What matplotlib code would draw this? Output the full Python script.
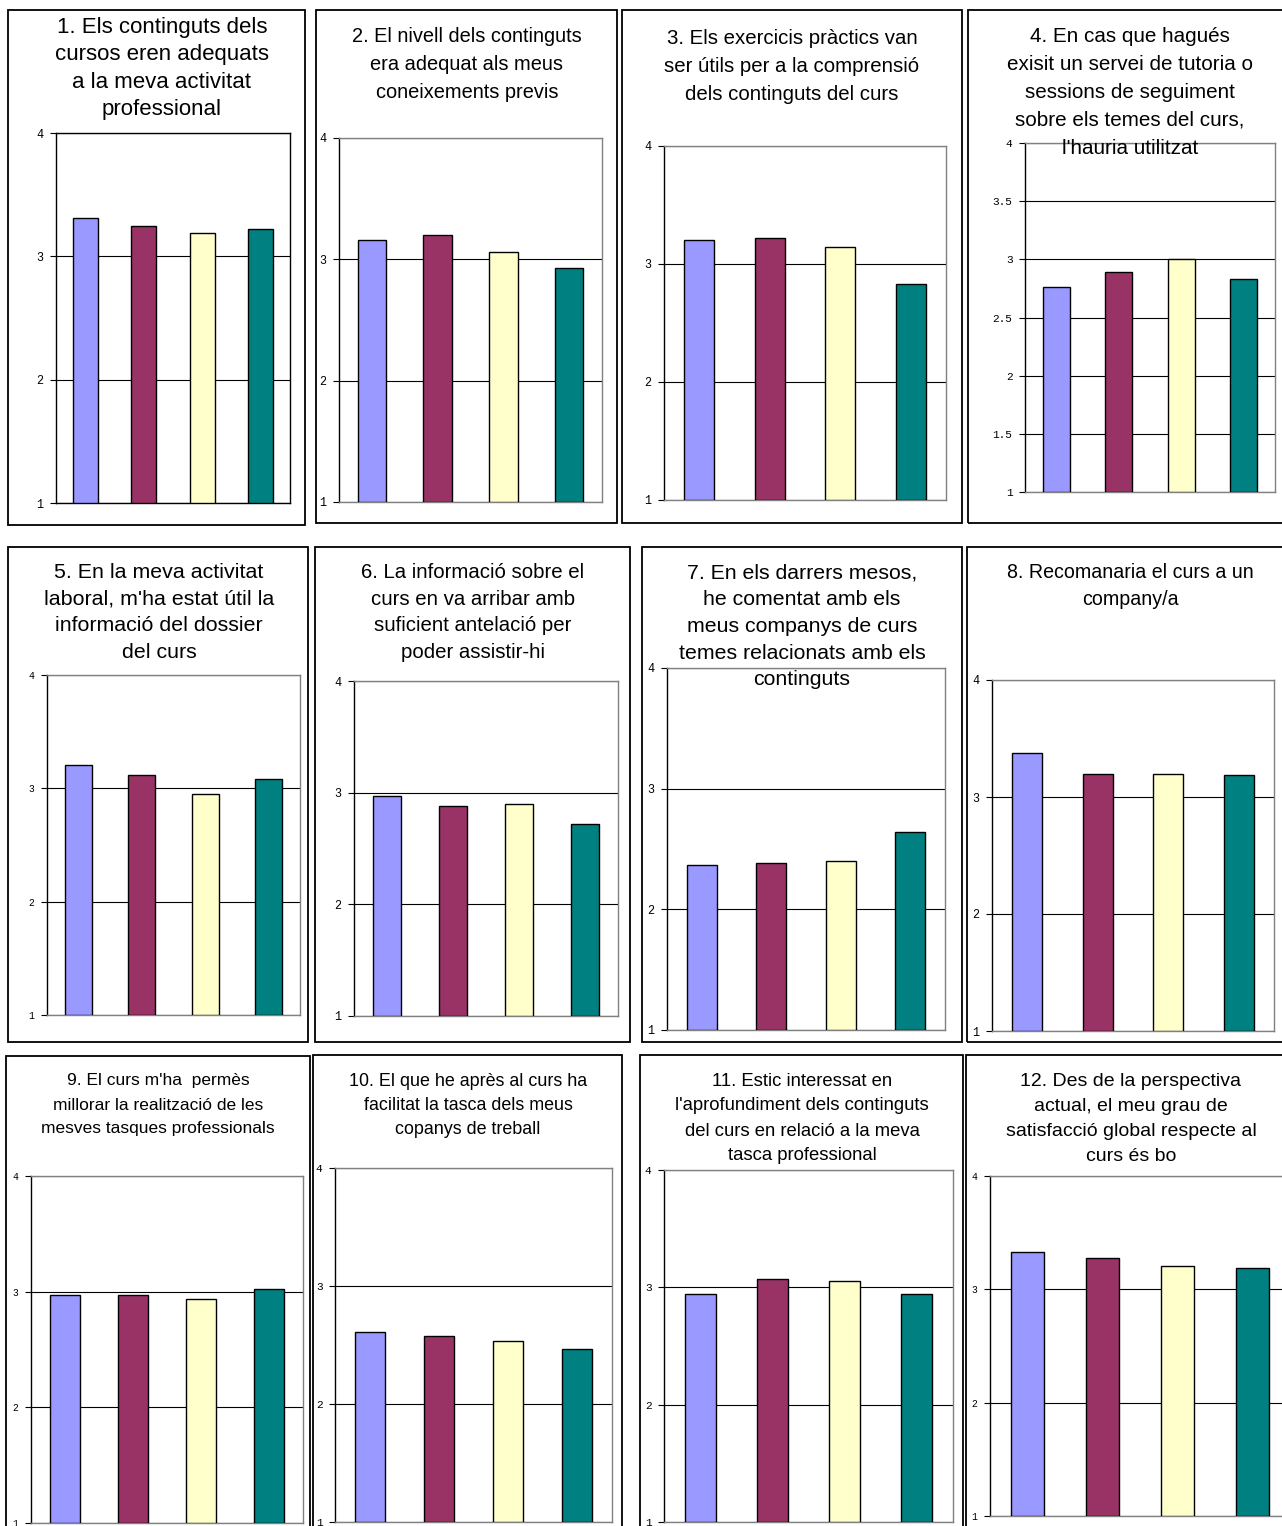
import matplotlib
matplotlib.use("Agg")
import matplotlib.pyplot as plt
from matplotlib.patches import Rectangle
from matplotlib.ticker import FuncFormatter

# valors mitjans per pregunta (4 grups de resposta)
serie_a = [3.31, 3.16, 3.20, 2.76, 3.21, 2.97, 2.37, 3.38, 2.97, 2.61, 2.94, 3.33]
serie_b = [3.25, 3.20, 3.22, 2.89, 3.12, 2.88, 2.38, 3.20, 2.97, 2.58, 3.07, 3.28]
serie_c = [3.19, 3.06, 3.14, 3.00, 2.95, 2.90, 2.40, 3.20, 2.94, 2.53, 3.05, 3.21]
serie_d = [3.22, 2.93, 2.83, 2.83, 3.08, 2.72, 2.64, 3.19, 3.02, 2.47, 2.94, 3.19]

colors = ["#9999FF", "#993366", "#FFFFCC", "#008080"]

titles = [
    ["1. Els continguts dels", "cursos eren adequats", "a la meva activitat", "professional"],
    ["2. El nivell dels continguts", "era adequat als meus", "coneixements previs"],
    ["3. Els exercicis pràctics van", "ser útils per a la comprensió", "dels continguts del curs"],
    ["4. En cas que hagués", "exisit un servei de tutoria o", "sessions de seguiment",
     "sobre els temes del curs,", "l'hauria utilitzat"],
    ["5. En la meva activitat", "laboral, m'ha estat útil la", "informació del dossier", "del curs"],
    ["6. La informació sobre el", "curs en va arribar amb", "suficient antelació per",
     "poder assistir-hi"],
    ["7. En els darrers mesos,", "he comentat amb els", "meus companys de curs",
     "temes relacionats amb els", "continguts"],
    ["8. Recomanaria el curs a un", "company/a"],
    ["9. El curs m'ha  permès", "millorar la realització de les", "mesves tasques professionals"],
    ["10. El que he après al curs ha", "facilitat la tasca dels meus", "copanys de treball"],
    ["11. Estic interessat en", "l'aprofundiment dels continguts", "del curs en relació a la meva",
     "tasca professional"],
    ["12. Des de la perspectiva", "actual, el meu grau de", "satisfacció global respecte al",
     "curs és bo"],
]

# layout in pixels (top-left origin): frame, plot area, title (x, first line y, spacing)
frames = [(8, 10, 305, 525), (316, 10, 617, 523), (622, 10, 962, 523), (968, 10, 1290, 523),
          (8, 547, 308, 1042), (315, 547, 630, 1042), (642, 547, 962, 1042), (967, 547, 1290, 1042),
          (6, 1056, 310, 1540), (313, 1055, 622, 1540), (640, 1055, 963, 1540), (966, 1055, 1290, 1540)]
plots = [(56, 133, 290, 503), (339, 138, 602, 502), (664, 146, 946, 500), (1025, 143, 1275, 492),
         (47, 675, 300, 1015), (354, 681, 618, 1016), (667, 668, 945, 1030), (992, 680, 1274, 1031),
         (31, 1176, 303, 1523), (335, 1168, 612, 1522), (664, 1170, 953, 1522), (990, 1176, 1290, 1516)]
title_pos = [(162, 27, 27.5), (467, 37, 27.5), (792, 38, 28), (1130, 37, 27.8),
             (159, 573, 26.5), (473, 573, 26.5), (802, 573, 26.7), (1130, 573, 26.5),
             (158, 1081, 24), (468, 1081, 24.5), (802, 1081, 25), (1131, 1081, 25.3)]
title_size = [16.0, 14.4, 14.7, 14.9, 15.4, 14.7, 15.3, 14.1, 12.5, 12.9, 13.3, 14.0]
tick_size = [8.5, 8.5, 8.5, 8, 7, 8.5, 8.5, 8.5, 7, 8, 8, 7]

W, H = 1282, 1526
fig = plt.figure(figsize=(W / 100, H / 100), dpi=100)
fig.patch.set_facecolor("white")

for i in range(12):
    fx0, fy0, fx1, fy1 = frames[i]
    fig.patches.append(Rectangle((fx0 / W, 1 - fy1 / H), (fx1 - fx0) / W, (fy1 - fy0) / H,
                                 transform=fig.transFigure, fill=False,
                                 edgecolor="black", lw=1.3, zorder=0))

    x0, y0, x1, y1 = plots[i]
    ax = fig.add_axes([x0 / W, 1 - y1 / H, (x1 - x0) / W, (y1 - y0) / H])
    vals = [serie_a[i], serie_b[i], serie_c[i], serie_d[i]]
    ax.bar(range(4), [v - 1 for v in vals], bottom=1, width=0.43,
           color=colors, edgecolor="black", linewidth=1.0, zorder=3)
    ax.set_xlim(-0.5, 3.5)
    ax.set_ylim(1, 4)
    if i == 3:
        ax.set_yticks([1, 1.5, 2, 2.5, 3, 3.5, 4])
    else:
        ax.set_yticks([1, 2, 3, 4])
    ax.yaxis.set_major_formatter(FuncFormatter(lambda v, p: "%g" % v))
    ax.set_xticks([])
    ax.grid(axis="y", color="black", lw=0.8, zorder=1)
    ax.tick_params(axis="y", length=4, width=0.8, pad=5, labelsize=tick_size[i])
    for lab in ax.get_yticklabels():
        lab.set_family("Liberation Mono")
    edge = "black" if i == 0 else "#808080"
    for s in ["top", "right", "bottom"]:
        ax.spines[s].set_color(edge)
        ax.spines[s].set_linewidth(1.0)
    ax.spines["left"].set_color("black")
    ax.spines["left"].set_linewidth(1.0)

    tx, ty, sp = title_pos[i]
    for k, line in enumerate(titles[i]):
        fig.text(tx / W, 1 - (ty + k * sp) / H, line, ha="center", va="center",
                 family="Liberation Sans", fontsize=title_size[i], color="black", zorder=5)

fig.savefig("out.png", dpi=100, facecolor="white")
